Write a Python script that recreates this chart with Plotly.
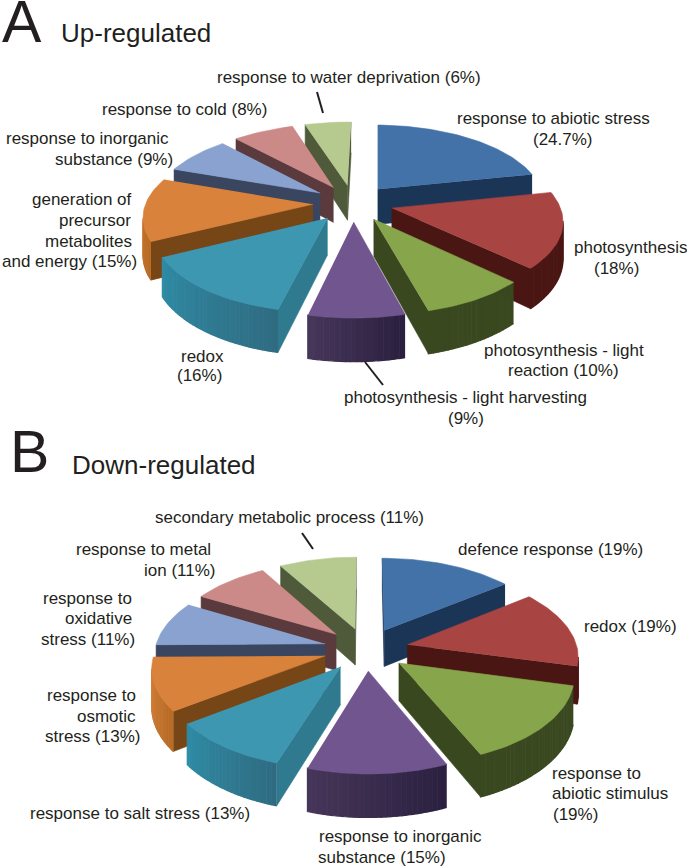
import numpy as np
import plotly.graph_objects as go

# Shares as printed on the figure
up_labels = ["response to abiotic stress<br>(24.7%)", "photosynthesis<br>(18%)",
             "photosynthesis - light<br>reaction (10%)", "photosynthesis - light harvesting<br>(9%)",
             "redox<br>(16%)", "generation of<br>precursor<br>metabolites<br>and energy (15%)",
             "response to inorganic<br>substance (9%)", "response to cold (8%)",
             "response to water deprivation (6%)"]
up_values = [24.7, 18, 10, 9, 16, 15, 9, 8, 6]

down_labels = ["defence response (19%)", "redox (19%)",
               "response to<br>abiotic stimulus<br>(19%)", "response to inorganic<br>substance (15%)",
               "response to salt stress (13%)", "response to<br>osmotic<br>stress (13%)",
               "response to<br>oxidative<br>stress (11%)", "response to metal<br>ion (11%)",
               "secondary metabolic process (11%)"]
down_values = [19, 19, 19, 15, 13, 13, 11, 11, 11]

# Centre of each text line, the lines were set by hand in the original
up_label_pos = [[(553, 118), (563, 139)], [(630, 247), (616, 268)], [(564, 350), (563, 370)],
                [(465, 397), (466, 418)], [(202, 356), (199, 375)],
                [(82, 199), (95, 220), (88, 241), (69, 261)], [(87, 138), (114, 159)], [(184, 109)],
                [(349, 77)]]
down_label_pos = [[(550, 549)], [(630, 626)], [(596, 773), (610, 793), (575, 814)],
                  [(400, 836), (382, 857)], [(140, 813)], [(91, 695), (106, 716), (92, 736)],
                  [(87, 598), (98, 618), (88, 639)], [(143, 549), (180, 570)], [(289, 517)]]

# top, cut face, rim at start of arc, rim at end of arc
top_colors = ["#4272a8", "#a84442", "#87a54a", "#70558f", "#3d97b1", "#d9823c", "#8aa2cf", "#cb8a88", "#b6c98f"]
face_colors = ["#1b3556", "#4a1613", "#3a4820", "#3f2f55", "#2f7a8e", "#774616", "#3a4560", "#5a3a3c", "#4f5a3a"]
rim_start = ["#1b3556", "#4a1613", "#3a4820", "#2b2040", "#2f6c82", "#b86b25", "#3a4560", "#5a3a3c", "#4f5a3a"]
rim_end = ["#1b3556", "#4a1613", "#3a4820", "#463659", "#2f8ba5", "#d9843c", "#3a4560", "#5a3a3c", "#4f5a3a"]

TEXT = "#231f20"
FONT = "Liberation Sans"


def mix(c1, c2, t):
    a = [int(c1[i:i + 2], 16) for i in (1, 3, 5)]
    b = [int(c2[i:i + 2], 16) for i in (1, 3, 5)]
    return "rgb(%d,%d,%d)" % tuple(round(a[k] + (b[k] - a[k]) * t) for k in range(3))


def add_poly(fig, xs, ys, color, width=0.6):
    fig.add_trace(go.Scatter(x=xs, y=ys, mode="lines", fill="toself", fillcolor=color,
                             line=dict(color=color, width=width), hoverinfo="skip", showlegend=False))


def draw_pie(fig, values, cx, cy, rx, ry, p, explode, depth, rotation=0):
    def project(u, v, z):
        w = 1 / (1 - p * v)
        return cx + rx * u * w, cy + ry * v * w + depth * z * w

    def prism_face(fig, pts, color, width=0.6):
        # only faces turned to the viewer
        top = [project(u, v, 0) for u, v in pts]
        bot = [project(u, v, 1) for u, v in pts]
        ring = top + bot[::-1]
        xs = [q[0] for q in ring]
        ys = [q[1] for q in ring]
        area = sum(xs[i] * ys[(i + 1) % len(xs)] - xs[(i + 1) % len(xs)] * ys[i] for i in range(len(xs)))
        if area < 0:
            add_poly(fig, xs, ys, color, width)

    edges = np.cumsum([0] + list(values)) / sum(values) * 2 * np.pi + np.radians(rotation)
    slices = []
    for i in range(len(values)):
        mid = (edges[i] + edges[i + 1]) / 2
        slices.append((-np.cos(mid) * explode, i, mid))

    # back to front so nearer slices cover the ones behind
    for _, i, mid in sorted(slices):
        a0, a1 = edges[i], edges[i + 1]
        ax, ay = np.sin(mid) * explode, -np.cos(mid) * explode
        arc = np.linspace(a0, a1, max(int((a1 - a0) / np.radians(1.5)), 4) + 1)
        rim = [(ax + np.sin(t), ay - np.cos(t)) for t in arc]

        prism_face(fig, [(ax, ay), rim[0]], face_colors[i])
        prism_face(fig, [rim[-1], (ax, ay)], face_colors[i])
        for k in range(len(rim) - 1):
            prism_face(fig, [rim[k], rim[k + 1]], mix(rim_start[i], rim_end[i], k / (len(rim) - 2)), 1.2)

        outline = [project(ax, ay, 0)] + [project(u, v, 0) for u, v in rim]
        add_poly(fig, [q[0] for q in outline], [q[1] for q in outline], top_colors[i])


def add_labels(fig, labels, positions):
    for text, pos in zip(labels, positions):
        for line, (x, y) in zip(text.split("<br>"), pos):
            fig.add_annotation(x=x, y=y, text=line, showarrow=False, xanchor="center", yanchor="middle",
                               font=dict(family=FONT, size=17, color=TEXT))


fig = go.Figure()
draw_pie(fig, up_values, 353, 203, 167, 76.7, 0.14, 0.24, 36, rotation=1.2)
draw_pie(fig, down_values, 366, 649, 170, 85, 0.12, 0.25, 37)
add_labels(fig, up_labels, up_label_pos)
add_labels(fig, down_labels, down_label_pos)

headings = [(0, 22, "A", 59), (8, 452, "B", 59), (59, 33, "Up-regulated", 26), (70, 465, "Down-regulated", 26)]
for x, y, text, size in headings:
    fig.add_annotation(x=x, y=y, text=text, showarrow=False, xanchor="left", yanchor="middle",
                       font=dict(family=FONT, size=size, color=TEXT))

# Leader lines
for x0, y0, x1, y1 in [(317, 92, 323, 113), (365, 362, 383, 385), (302, 533, 313, 549)]:
    fig.add_shape(type="line", x0=x0, y0=y0, x1=x1, y1=y1, line=dict(color=TEXT, width=2))

fig.update_xaxes(range=[0, 687], visible=False, fixedrange=True)
fig.update_yaxes(range=[866, 0], visible=False, fixedrange=True)
fig.update_layout(width=687, height=866, margin=dict(l=0, r=0, t=0, b=0),
                  paper_bgcolor="white", plot_bgcolor="white", showlegend=False)

fig.write_html("out.html", config={"displayModeBar": False},
               post_script="document.body.style.margin='0';document.body.style.overflow='hidden';")
